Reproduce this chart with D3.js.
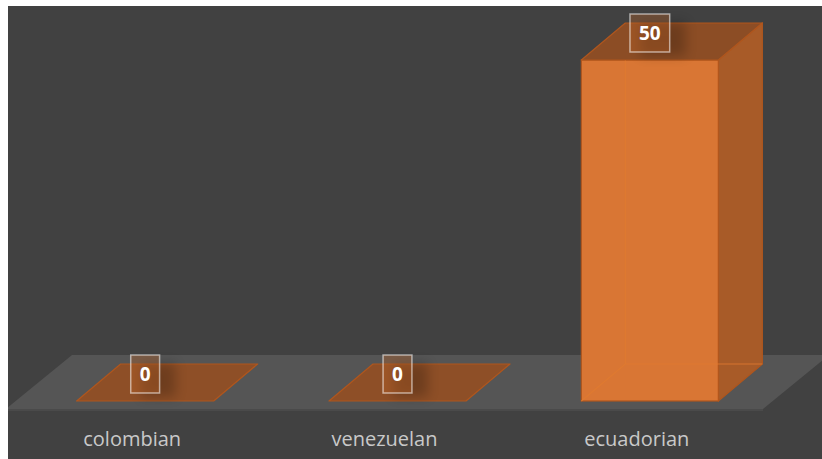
<!DOCTYPE html>
<html>
<head>
<meta charset="utf-8">
<script src="https://cdn.jsdelivr.net/npm/d3@7"></script>
<style>
html,body{margin:0;padding:0;background:#ffffff;}
svg{display:block;}
</style>
</head>
<body>
<svg id="chart" width="822" height="459"></svg>
<script>
const categories = ["colombian", "venezuelan", "ecuadorian"];
const values = [0, 0, 50];
const valueLabels = ["0", "0", "50"];

const W = 822, H = 459;
const svg = d3.select("#chart");
const defs = svg.append("defs");
defs.append("clipPath").attr("id", "clip")
  .append("rect").attr("x", 8).attr("y", 6).attr("width", W - 8).attr("height", H - 6);
const blur = defs.append("filter").attr("id", "blur").attr("x", "-50%").attr("y", "-50%").attr("width", "200%").attr("height", "200%");
blur.append("feGaussianBlur").attr("stdDeviation", 6);

const g = svg.append("g").attr("clip-path", "url(#clip)");
g.append("rect").attr("x", 8).attr("y", 6).attr("width", W - 8).attr("height", H - 6).attr("fill", "#414141");

const x = d3.scaleBand().domain(categories).range([19, 776]).paddingInner(0.457).paddingOuter(0.2285);
const y = d3.scaleLinear().domain([0, 50]).range([401, 60]);
const bw = x.bandwidth();
const dx = 44, dy = -37;

// floor
const fy0 = y(0) + 8, fdx = 66, fdy = -54;
const fxl = x.range()[0] - 13, fxr = x.range()[1] - 13;
g.append("path")
  .attr("d", `M${fxl},${fy0}L${fxr},${fy0}L${fxr + fdx},${fy0 + fdy}L${fxl + fdx},${fy0 + fdy}Z`)
  .attr("fill", "#555555");
g.append("rect").attr("x", 8).attr("y", fy0).attr("width", fxr - 8).attr("height", 2).attr("fill", "#4a4a4a");

const edge = "#b0561d";
const data = categories.map((c, i) => ({c, v: values[i], label: valueLabels[i]}));

const bars = g.selectAll("g.bar").data(data).join("g").attr("class", "bar");
bars.each(function(d) {
  const s = d3.select(this);
  const x0 = x(d.c), x1 = x0 + bw, yb = y(0), yt = y(d.v);
  if (d.v > 0) {
    s.append("path").attr("d", `M${x1},${yt}L${x1 + dx},${yt + dy}L${x1 + dx},${yb + dy}L${x1},${yb}Z`)
      .attr("fill", "#a85b28").attr("stroke", edge).attr("stroke-width", 1.2).attr("stroke-linejoin", "round");
    s.append("rect").attr("x", x0).attr("y", yt).attr("width", bw).attr("height", yb - yt)
      .attr("fill", "#d97634").attr("stroke", edge).attr("stroke-width", 1.2);
    s.append("path").attr("d", `M${x0},${yb}L${x0 + dx},${yb + dy}L${x1 + dx},${yb + dy}M${x0 + dx},${yb + dy}L${x0 + dx},${yt + dy}`)
      .attr("fill", "none").attr("stroke", "#e07a30").attr("stroke-width", 1.2).attr("opacity", 0.8);
  }
  s.append("path").attr("d", `M${x0},${yt}L${x1},${yt}L${x1 + dx},${yt + dy}L${x0 + dx},${yt + dy}Z`)
    .attr("fill", d.v > 0 ? "#8c4d25" : "#8e4f27").attr("stroke", edge).attr("stroke-width", 1.2).attr("stroke-linejoin", "round");

  const cx = x0 + bw / 2, cy = yt + dy + 10;
  const t = s.append("text").attr("x", cx).attr("y", cy).attr("text-anchor", "middle").attr("dy", "0.36em")
    .attr("font-family", "'Open Sans', sans-serif").attr("font-weight", "bold").attr("font-size", 19)
    .attr("fill", "#ffffff").text(d.label);
  const tw = t.node().getComputedTextLength();
  const bwid = tw + 18, bh = 38;
  s.insert("rect", "text").attr("x", cx - bwid / 2 + 10).attr("y", cy - bh / 2 + 8).attr("width", bwid + 6).attr("height", bh - 4)
    .attr("fill", "#000").attr("opacity", 0.22).attr("filter", "url(#blur)");
  s.insert("rect", "text").attr("x", cx - bwid / 2).attr("y", cy - bh / 2).attr("width", bwid).attr("height", bh)
    .attr("fill", "rgba(190,100,40,0.35)").attr("stroke", "rgba(255,255,255,0.55)").attr("stroke-width", 1.5);
});

g.selectAll("text.cat").data(categories).join("text").attr("class", "cat")
  .attr("x", d => x(d) + bw / 2 - 13).attr("y", 446).attr("text-anchor", "middle")
  .attr("font-family", "'Open Sans', sans-serif").attr("font-size", 20).attr("fill", "#c9c9c9")
  .text(d => d);
</script>
</body>
</html>
